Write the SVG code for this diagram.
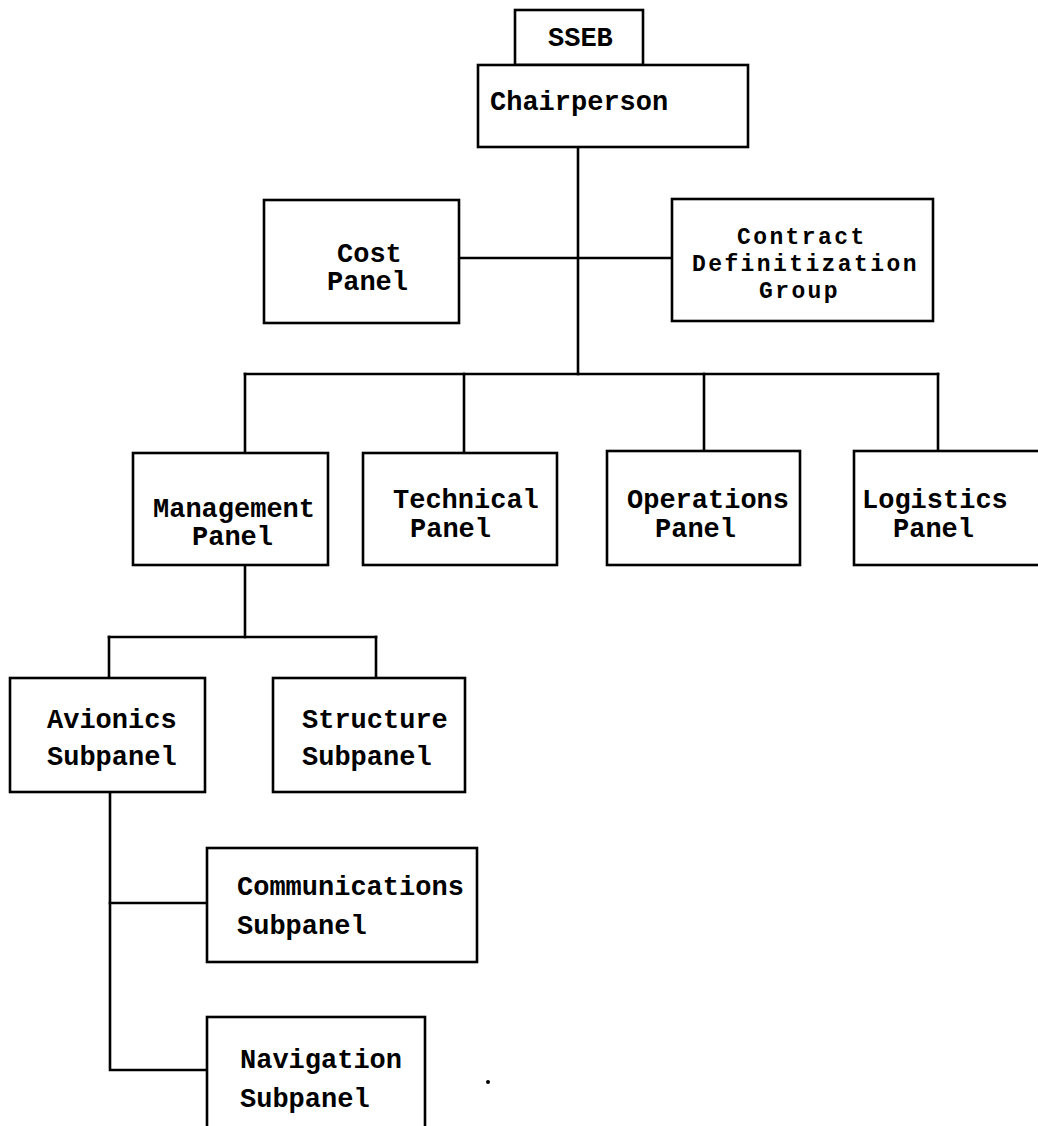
<svg xmlns="http://www.w3.org/2000/svg" width="1038" height="1126" viewBox="0 0 1038 1126">
  <style>
    .box { fill: #ffffff; stroke: #000000; stroke-width: 2.6; }
    .wire { fill: none; stroke: #000000; stroke-width: 2.6; stroke-linecap: square; }
    .lbl { font-family: "Liberation Mono", "DejaVu Sans Mono", monospace; font-size: 27px; font-weight: bold; fill: #000000; }
    .tight { font-size: 23px; letter-spacing: 2.4px; }
  </style>
  <rect width="1038" height="1126" fill="#ffffff"/>

  <!-- connectors -->
  <g id="connectors">
    <!-- Chairperson trunk down to the panel bus -->
    <path class="wire" d="M578,147 V374"/>
    <!-- staff groups beside the trunk -->
    <path class="wire" d="M459,258 H672"/>
    <!-- panel bus with drops -->
    <path class="wire" d="M245,374 H938"/>
    <path class="wire" d="M245,374 V453"/>
    <path class="wire" d="M464,374 V453"/>
    <path class="wire" d="M704,374 V451"/>
    <path class="wire" d="M938,374 V451"/>
    <!-- management subpanels -->
    <path class="wire" d="M245,565 V637"/>
    <path class="wire" d="M109,637 H376"/>
    <path class="wire" d="M109,637 V678"/>
    <path class="wire" d="M376,637 V678"/>
    <!-- avionics subpanels -->
    <path class="wire" d="M110,792 V1070 H207"/>
    <path class="wire" d="M110,903 H207"/>
  </g>

  <g id="sseb">
    <rect class="box" x="515" y="10" width="128" height="55"/>
    <text class="lbl" x="548" y="46" font-size="25">SSEB</text>
  </g>

  <g id="chairperson">
    <rect class="box" x="478" y="65" width="270" height="82"/>
    <text class="lbl" x="490" y="110">Chairperson</text>
  </g>

  <g id="cost-panel">
    <rect class="box" x="264" y="200" width="195" height="123"/>
    <text class="lbl" x="337" y="262">Cost</text>
    <text class="lbl" x="327" y="290">Panel</text>
  </g>

  <g id="contract-definitization-group">
    <rect class="box" x="672" y="199" width="261" height="122"/>
    <text class="lbl tight" x="737" y="244">Contract</text>
    <text class="lbl tight" x="692" y="271">Definitization</text>
    <text class="lbl tight" x="759" y="298">Group</text>
  </g>

  <g id="management-panel">
    <rect class="box" x="133" y="453" width="195" height="112"/>
    <text class="lbl" x="153" y="517">Management</text>
    <text class="lbl" x="192" y="545">Panel</text>
  </g>

  <g id="technical-panel">
    <rect class="box" x="363" y="453" width="194" height="112"/>
    <text class="lbl" x="393" y="508">Technical</text>
    <text class="lbl" x="410" y="537">Panel</text>
  </g>

  <g id="operations-panel">
    <rect class="box" x="607" y="451" width="193" height="114"/>
    <text class="lbl" x="627" y="508">Operations</text>
    <text class="lbl" x="655" y="537">Panel</text>
  </g>

  <g id="logistics-panel">
    <rect class="box" x="854" y="451" width="200" height="114"/>
    <text class="lbl" x="862" y="508">Logistics</text>
    <text class="lbl" x="893" y="537">Panel</text>
  </g>

  <g id="avionics-subpanel">
    <rect class="box" x="10" y="678" width="195" height="114"/>
    <text class="lbl" x="47" y="728">Avionics</text>
    <text class="lbl" x="47" y="765">Subpanel</text>
  </g>

  <g id="structure-subpanel">
    <rect class="box" x="273" y="678" width="192" height="114"/>
    <text class="lbl" x="302" y="728">Structure</text>
    <text class="lbl" x="302" y="765">Subpanel</text>
  </g>

  <g id="communications-subpanel">
    <rect class="box" x="207" y="848" width="270" height="114"/>
    <text class="lbl" x="237" y="895">Communications</text>
    <text class="lbl" x="237" y="934">Subpanel</text>
  </g>

  <g id="navigation-subpanel">
    <rect class="box" x="207" y="1017" width="218" height="120"/>
    <text class="lbl" x="240" y="1068">Navigation</text>
    <text class="lbl" x="240" y="1107">Subpanel</text>
  </g>

  <!-- stray mark on the sheet -->
  <circle cx="488" cy="1082" r="2" fill="#000000"/>
</svg>
